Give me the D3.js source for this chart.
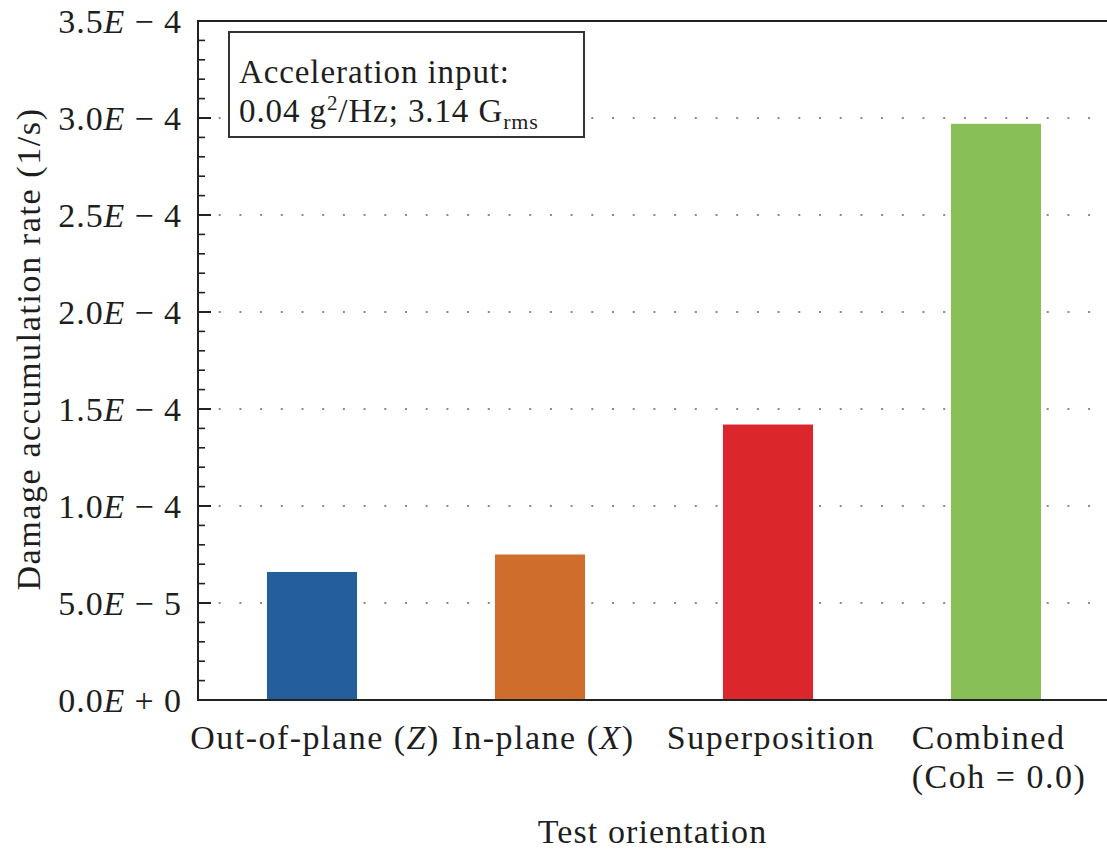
<!DOCTYPE html>
<html>
<head>
<meta charset="utf-8">
<script src="https://cdn.jsdelivr.net/npm/d3@7"></script>
<style>
  body { margin: 0; background: #fff; }
  text { font-family: "Liberation Serif", "Times New Roman", serif; fill: #1e1e1e; }
</style>
</head>
<body>
<svg id="chart" width="1107" height="851"></svg>
<script>
// Damage accumulation rate per test orientation
const categories = ["Out-of-plane (Z)", "In-plane (X)", "Superposition", "Combined (Coh = 0.0)"];
const categoryLines = [["Out-of-plane (Z)"], ["In-plane (X)"], ["Superposition"], ["Combined", "(Coh = 0.0)"]];
const values = [6.6e-5, 7.5e-5, 1.42e-4, 2.97e-4];
const colors = ["#245f9c", "#cf6e2c", "#db262b", "#88bf56"];
const yTicks = [0, 5e-5, 1e-4, 1.5e-4, 2e-4, 2.5e-4, 3e-4, 3.5e-4];
const yTickLabels = ["0.0E + 0", "5.0E − 5", "1.0E − 4", "1.5E − 4", "2.0E − 4", "2.5E − 4", "3.0E − 4", "3.5E − 4"];
const yMinorStep = 1e-5;
const yLabel = "Damage accumulation rate (1/s)";
const xLabel = "Test orientation";
const noteLines = ["Acceleration input:", "0.04 g²/Hz; 3.14 Grms"];

const svg = d3.select("#chart");
const plotLeft = 198, plotTop = 21, plotBottom = 700, plotRight = 1110;
const fontSize = 34, spacing = "0.9px";

const x = d3.scaleBand().domain(categories).range([plotLeft, plotRight])
  .paddingInner(0.605).paddingOuter(0.3025);
const y = d3.scaleLinear().domain([0, 3.5e-4]).range([plotBottom, plotTop]);

// dotted horizontal grid
svg.append("g").selectAll("line")
  .data(yTicks.filter(v => v > 0 && v < 3.5e-4))
  .join("line")
  .attr("x1", plotLeft).attr("x2", 1107)
  .attr("y1", d => y(d)).attr("y2", d => y(d))
  .attr("stroke", "#8a8a8a").attr("stroke-width", 2)
  .attr("stroke-dasharray", "2 18.7");

// bars
svg.append("g").selectAll("rect")
  .data(values)
  .join("rect")
  .attr("x", (d, i) => x(categories[i]))
  .attr("width", x.bandwidth())
  .attr("y", d => y(d))
  .attr("height", d => y(0) - y(d))
  .attr("fill", (d, i) => colors[i]);

// axis frame: left, bottom, top
const frame = svg.append("g").attr("stroke", "#222").attr("stroke-width", 2).attr("fill", "none");
frame.append("path").attr("d", `M1107,${plotTop}H${plotLeft}V${plotBottom}H1107`);

// minor and major inward ticks
const minor = d3.range(0, 3.5e-4 + 1e-12, yMinorStep).filter(v => !yTicks.some(t => Math.abs(t - v) < 1e-12));
svg.append("g").selectAll("line").data(minor).join("line")
  .attr("x1", plotLeft).attr("x2", plotLeft + 7)
  .attr("y1", d => y(d)).attr("y2", d => y(d))
  .attr("stroke", "#222").attr("stroke-width", 1.6);
svg.append("g").selectAll("line").data(yTicks).join("line")
  .attr("x1", plotLeft).attr("x2", plotLeft + 13)
  .attr("y1", d => y(d)).attr("y2", d => y(d))
  .attr("stroke", "#222").attr("stroke-width", 2);

// y tick labels with italic E
const yt = svg.append("g").selectAll("text").data(yTicks).join("text")
  .attr("x", plotLeft - 16).attr("y", d => y(d)).attr("dy", "0.35em")
  .attr("text-anchor", "end")
  .style("font-size", fontSize + "px").style("letter-spacing", spacing);
yt.each(function (d, i) {
  const parts = yTickLabels[i].split("E");
  const t = d3.select(this);
  t.append("tspan").text(parts[0]);
  t.append("tspan").style("font-style", "italic").text("E");
  t.append("tspan").text(parts[1]);
});

// x category labels: multi-line labels form a left-aligned block centred under the bar;
// a letter in parentheses is set in italic
categoryLines.forEach((lines, i) => {
  const cx = x(categories[i]) + x.bandwidth() / 2 + 3;
  const texts = lines.map((line, j) => {
    const t = svg.append("text")
      .attr("y", 749 + j * 39)
      .style("font-size", fontSize + "px").style("letter-spacing", "1.5px");
    const m = line.match(/^(.*\()([A-Z])(\).*)$/);
    if (m) {
      t.append("tspan").text(m[1]);
      t.append("tspan").style("font-style", "italic").text(m[2]);
      t.append("tspan").text(m[3]);
    } else {
      t.text(line);
    }
    return t;
  });
  const widest = d3.max(texts, t => t.node().getComputedTextLength());
  texts.forEach(t => t.attr("x", cx - widest / 2));
});

// axis titles
svg.append("text")
  .attr("x", (plotLeft + 1107) / 2).attr("y", 843)
  .attr("text-anchor", "middle")
  .style("font-size", fontSize + "px").style("letter-spacing", "1.1px")
  .text(xLabel);
svg.append("text")
  .attr("transform", `translate(40,349) rotate(-90)`)
  .attr("text-anchor", "middle")
  .style("font-size", fontSize + "px").style("letter-spacing", "1.6px")
  .text(yLabel);

// input annotation box
svg.append("rect")
  .attr("x", 229).attr("y", 32).attr("width", 355).attr("height", 105)
  .attr("fill", "#fff").attr("stroke", "#333").attr("stroke-width", 2);
svg.append("text")
  .attr("x", 239).attr("y", 83)
  .style("font-size", "33px").style("letter-spacing", "0.9px")
  .text(noteLines[0]);
const l2 = svg.append("text")
  .attr("x", 239).attr("y", 122)
  .style("font-size", "33px").style("letter-spacing", "0.9px");
l2.append("tspan").text("0.04 g");
l2.append("tspan").attr("dy", -12).style("font-size", "21px").text("2");
l2.append("tspan").attr("dy", 12).text("/Hz; 3.14 G");
l2.append("tspan").attr("dy", 7).style("font-size", "22px").text("rms");
</script>
</body>
</html>
